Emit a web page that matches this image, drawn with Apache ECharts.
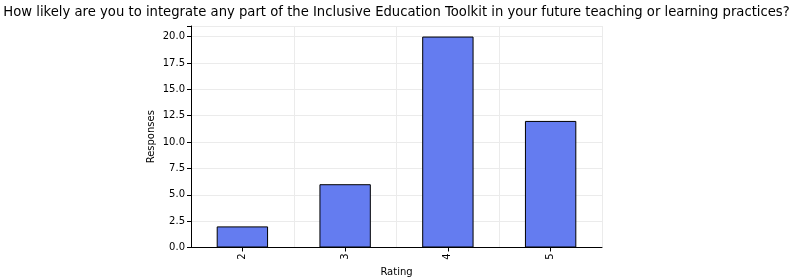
<!DOCTYPE html>
<html><head><meta charset="utf-8">
<script src="https://cdn.jsdelivr.net/npm/echarts@6/dist/echarts.min.js"></script>
<style>html,body{margin:0;padding:0;background:#fff}#c{width:793px;height:277px}</style>
</head><body><div id="c"></div>
<script>
var categories = ['2', '3', '4', '5'];
var responses = [2, 6, 20, 12];
var yTicks = ['0.0','2.5','5.0','7.5','10.0','12.5','15.0','17.5','20.0'];
var titleText = 'How likely are you to integrate any part of the Inclusive Education Toolkit in your future teaching or learning practices?';

var chart = echarts.init(document.getElementById('c'), null, {renderer: 'canvas'});
var font = 'DejaVu Sans';
chart.setOption({
  animation: false,
  title: {text: titleText, left: 'center', top: 1,
    textStyle: {fontFamily: font, fontSize: 13.2, fontWeight: 'normal', color: '#000'}},
  grid: {left: 191, right: 191, top: 26, bottom: 29.5, containLabel: false, outerBoundsMode: 'none'},
  xAxis: {
    type: 'category', data: categories,
    name: 'Rating', nameLocation: 'middle', nameGap: 20, nameMoveOverlap: false,
    nameTextStyle: {fontFamily: font, fontSize: 10, color: '#000'},
    axisLine: {lineStyle: {color: '#000', width: 1}},
    axisTick: {show: true, alignWithLabel: true, length: 4, lineStyle: {color: '#000'}},
    axisLabel: {rotate: 90, fontFamily: font, fontSize: 10, color: '#000', margin: 6},
    splitLine: {show: true, lineStyle: {color: '#ebebeb', width: 1}}
  },
  yAxis: {
    type: 'value', min: 0, max: 21, interval: 2.5,
    name: 'Responses', nameLocation: 'middle', nameGap: 34.5, nameMoveOverlap: false,
    nameTextStyle: {fontFamily: font, fontSize: 10, color: '#000'},
    axisLine: {show: true, lineStyle: {color: '#000', width: 1}},
    axisTick: {show: true, length: 4, lineStyle: {color: '#000'}},
    axisLabel: {fontFamily: font, fontSize: 10, color: '#000', margin: 6,
      formatter: function (v) { var i = Math.round(v / 2.5); return yTicks[i] !== undefined && Math.abs(v - i*2.5) < 1e-9 ? yTicks[i] : ''; }},
    splitLine: {show: true, lineStyle: {color: '#ebebeb', width: 1}}
  },
  series: [{
    type: 'bar', data: responses, barWidth: '50%',
    itemStyle: {color: '#647cf0', borderColor: '#000', borderWidth: 1}
  }]
});
</script></body></html>
